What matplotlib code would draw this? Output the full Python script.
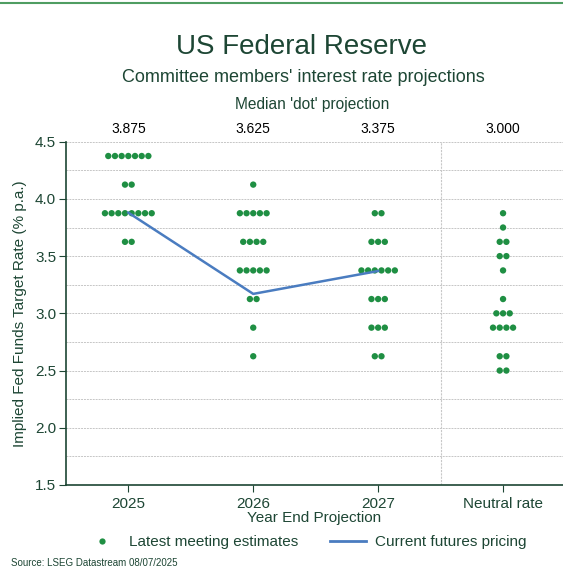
import matplotlib
matplotlib.use("Agg")
import matplotlib.pyplot as plt
from matplotlib.lines import Line2D
import numpy as np

plt.rcParams['font.family'] = ['Liberation Sans', 'DejaVu Sans']

# FOMC dot plot: (rate, number of members) per projection horizon
categories = ['2025', '2026', '2027', 'Neutral rate']
dots_2025 = [(4.375, 7), (4.125, 2), (3.875, 8), (3.625, 2)]
dots_2026 = [(4.125, 1), (3.875, 5), (3.625, 4), (3.375, 5), (3.125, 2), (2.875, 1), (2.625, 1)]
dots_2027 = [(3.875, 2), (3.625, 3), (3.375, 6), (3.125, 3), (2.875, 3), (2.625, 2)]
dots_neutral = [(3.875, 1), (3.75, 1), (3.625, 2), (3.5, 2), (3.375, 1), (3.125, 1),
                (3.0, 3), (2.875, 4), (2.625, 2), (2.5, 2)]
medians = ['3.875', '3.625', '3.375', '3.000']
futures = [3.88, 3.17, 3.37]

DARK = '#1d4634'
DOT = '#1f8f43'
LINE = '#4a7cc0'

fig = plt.figure(figsize=(5.63, 5.73), dpi=100)
ax = fig.add_axes([0.117, 0.1536, 0.883, 0.5991])

step = 0.0535
for i, groups in enumerate([dots_2025, dots_2026, dots_2027, dots_neutral]):
    for rate, n in groups:
        xs = i + (np.arange(n) - (n - 1) / 2) * step
        ax.scatter(xs, [rate] * n, s=21, color=DOT, edgecolors='none', zorder=3)

ax.plot([0, 1, 2], futures, color=LINE, lw=1.8, zorder=4)

ax.set_xlim(-0.5, 3.48)
ax.set_ylim(1.5, 4.5)
ax.set_yticks([1.5, 2.0, 2.5, 3.0, 3.5, 4.0, 4.5])
ax.set_yticks(np.arange(1.75, 4.5, 0.5), minor=True)
ax.set_xticks(range(4))
ax.set_xticklabels(categories)
ax.tick_params(axis='y', which='major', length=5, color=DARK, labelcolor=DARK, labelsize=11, pad=2)
ax.tick_params(axis='y', which='minor', length=0)
ax.tick_params(axis='x', length=5, color=DARK, labelcolor=DARK, labelsize=11, pad=4)
ax.yaxis.set_major_formatter(matplotlib.ticker.FormatStrFormatter('%.1f'))

ax.grid(axis='y', which='both', color='#c6c6c6', ls=(0, (2, 1)), lw=0.7)
ax.axvline(2.5, color='#c8c8c8', ls=(0, (2, 1)), lw=0.8)
for s in ['top', 'right']:
    ax.spines[s].set_visible(False)
for s in ['left', 'bottom']:
    ax.spines[s].set_color(DARK)
    ax.spines[s].set_linewidth(1.2)

ax.set_ylabel('Implied Fed Funds Target Rate (% p.a.)', color=DARK, fontsize=11, labelpad=6)
ax.set_xlabel('Year End Projection', color=DARK, fontsize=11, labelpad=0)

for i, m in enumerate(medians):
    ax.text(i, 4.55, m, ha='center', va='bottom', fontsize=10, color='black')

fig.text(0.535, 0.918, 'US Federal Reserve', ha='center', va='center', fontsize=20, color=DARK)
fig.text(0.538, 0.865, "Committee members' interest rate projections", ha='center', va='center',
         fontsize=13, color=DARK)
fig.text(0.555, 0.818, "Median 'dot' projection", ha='center', va='center', fontsize=11.2, color=DARK)

fig.add_artist(Line2D([0, 1], [0.995, 0.995], color='#4f9d62', lw=1.5))

handles = [Line2D([], [], marker='o', ls='none', color=DOT, markersize=4.5, markeredgewidth=0),
           Line2D([], [], color=LINE, lw=2)]
fig.legend(handles, ['Latest meeting estimates', 'Current futures pricing'], loc='center',
           bbox_to_anchor=(0.542, 0.054), ncol=2, frameon=False, fontsize=11,
           labelcolor=DARK, handlelength=2.35, columnspacing=2.1, handletextpad=0.6)

fig.text(0.02, 0.018, 'Source: LSEG Datastream 08/07/2025', ha='left', va='center', fontsize=7, color=DARK)

fig.savefig('out.png', dpi=100)
